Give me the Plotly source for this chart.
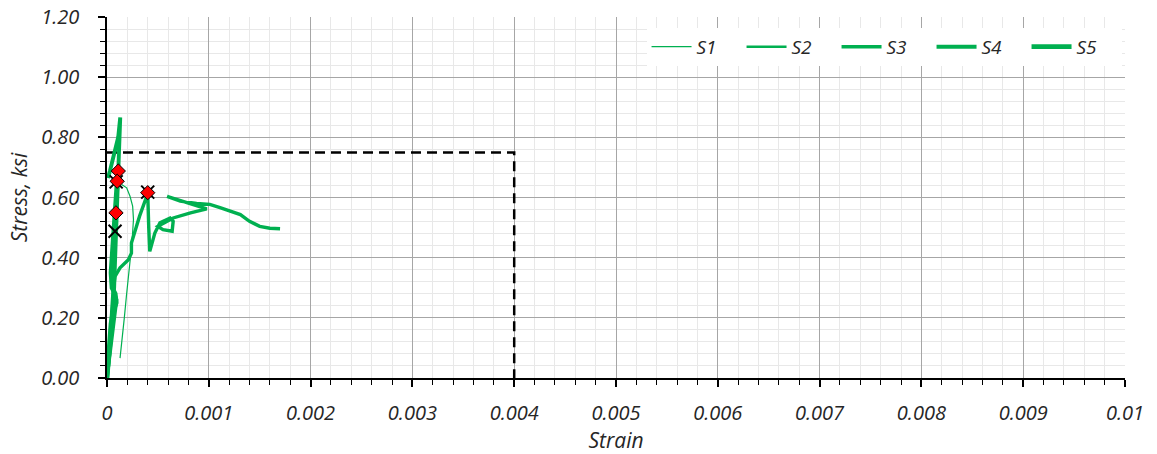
import plotly.graph_objects as go

# ---- data ----
s1_strain = [0.000128, 0.00015, 0.00017, 0.00019, 0.000226, 0.00024, 0.000245, 0.00026, 0.000252, 0.000226, 0.000193, 0.000144]
s1_stress = [0.066, 0.13, 0.20, 0.27, 0.393, 0.42, 0.449, 0.527, 0.571, 0.604, 0.632, 0.643]

s2_strain = [0.0, 0.00002, 0.00004, 0.00005, 0.00006, 0.00007, 0.00008, 0.00009, 0.000095, 0.0001, 0.000105, 0.00011]
s2_stress = [0.0, 0.10, 0.20, 0.26, 0.32, 0.40, 0.45, 0.488, 0.52, 0.55, 0.65, 0.688]

s3_strain = [0.0, 0.000046, 0.000079, 0.000095, 0.000062, 0.000079, 0.000128, 0.00021, 0.00024, 0.00024, 0.00026,
             0.00032, 0.00039, 0.0004, 0.00041, 0.00042, 0.00047, 0.00052, 0.00062, 0.00065, 0.00064, 0.00055,
             0.0005, 0.00065, 0.00082, 0.00098, 0.00059, 0.00072, 0.00088, 0.00101, 0.00111, 0.00121, 0.00131,
             0.0014, 0.0015, 0.0016, 0.0017]
s3_stress = [0.0, 0.127, 0.204, 0.26, 0.293, 0.338, 0.366, 0.393, 0.415, 0.449, 0.471,
             0.538, 0.604, 0.616, 0.50, 0.421, 0.482, 0.516, 0.532, 0.521, 0.488, 0.493,
             0.504, 0.532, 0.549, 0.562, 0.604, 0.588, 0.58, 0.577, 0.566, 0.554, 0.543,
             0.521, 0.504, 0.498, 0.496]

s4_strain = [0.0, 0.00003, 0.00005, 0.00007, 0.00008, 0.00009, 0.0001, 0.00011, 0.00012, 0.00013, 0.00011, 0.00007, 0.00003, 0.00001]
s4_stress = [0.0, 0.10, 0.20, 0.30, 0.40, 0.50, 0.60, 0.70, 0.80, 0.866, 0.80, 0.74, 0.69, 0.665]

s5_strain = [0.0, 0.00002, 0.00004, 0.00006, 0.00009, 0.00008, 0.00005, 0.00004, 0.00006, 0.00008, 0.0001]
s5_stress = [0.0, 0.10, 0.18, 0.22, 0.25, 0.28, 0.30, 0.35, 0.45, 0.55, 0.65]

diamond_strain = [0.000111, 0.0001, 0.000088, 0.0004]
diamond_stress = [0.688, 0.654, 0.549, 0.616]
x_strain = [0.00009, 0.000079, 0.0004]
x_stress = [0.652, 0.488, 0.618]

limit_strain = [0.0, 0.004, 0.004]
limit_stress = [0.75, 0.75, 0.0]

series = [("S1", s1_strain, s1_stress, 1.2),
          ("S2", s2_strain, s2_stress, 2.4),
          ("S3", s3_strain, s3_stress, 3.4),
          ("S4", s4_strain, s4_stress, 3.9),
          ("S5", s5_strain, s5_stress, 4.8)]

x_tickvals = [0, 0.001, 0.002, 0.003, 0.004, 0.005, 0.006, 0.007, 0.008, 0.009, 0.01]
x_ticktext = ["0", "0.001", "0.002", "0.003", "0.004", "0.005", "0.006", "0.007", "0.008", "0.009", "0.01"]
y_tickvals = [0, 0.2, 0.4, 0.6, 0.8, 1.0, 1.2]
y_ticktext = ["0.00", "0.20", "0.40", "0.60", "0.80", "1.00", "1.20"]

GREEN = "#00b050"
FONT = "Open Sans"
TXT = "#262626"

fig = go.Figure()
fig.add_trace(go.Scatter(x=limit_strain, y=limit_stress, mode="lines",
                         line=dict(color="black", width=2.5, dash="10px,6px"),
                         showlegend=False, hoverinfo="skip"))
for name, xs, ys, w in series:
    fig.add_trace(go.Scatter(x=xs, y=ys, mode="lines", name=name,
                             line=dict(color=GREEN, width=w)))
fig.add_trace(go.Scatter(x=x_strain, y=x_stress, mode="markers", showlegend=False,
                         marker=dict(symbol="x-thin-open", size=13, color="black",
                                     line=dict(color="black", width=2))))
fig.add_trace(go.Scatter(x=diamond_strain, y=diamond_stress, mode="markers", showlegend=False,
                         marker=dict(symbol="diamond", size=11, color="red",
                                     line=dict(color="black", width=1))))

fig.update_layout(
    width=1157, height=454,
    margin=dict(l=107, r=32, t=17, b=76, autoexpand=False),
    paper_bgcolor="white", plot_bgcolor="white",
    font=dict(family=FONT, size=20, color=TXT),
    showlegend=True,
    legend=dict(orientation="h", x=0.530, y=0.97, xanchor="left", yanchor="top",
                bgcolor="white", font=dict(family=FONT, size=19, style="italic", color=TXT),
                itemwidth=40, entrywidth=40, entrywidthmode="pixels", tracegroupgap=0),
    xaxis=dict(range=[0, 0.01], tickvals=x_tickvals, ticktext=x_ticktext,
               showgrid=True, gridcolor="#a6a6a6", gridwidth=1.3,
               showline=True, linecolor="black", linewidth=1.5,
               ticks="outside", ticklen=7, tickcolor="black", tickwidth=1.5,
               ticklabelstandoff=9, ticklabeloverflow="allow",
               tickfont=dict(family=FONT, size=20, style="italic", color=TXT),
               minor=dict(dtick=0.0002, showgrid=True, gridcolor="#e8e8e8", gridwidth=1,
                          ticks="outside", ticklen=5, tickcolor="black", tickwidth=1.2),
               title=dict(text="Strain", font=dict(family=FONT, size=21, style="italic", color=TXT), standoff=4),
               zeroline=False),
    yaxis=dict(range=[0, 1.2], tickvals=y_tickvals, ticktext=y_ticktext,
               showgrid=True, gridcolor="#a6a6a6", gridwidth=1.3,
               showline=True, linecolor="black", linewidth=1.5,
               ticks="outside", ticklen=7, tickcolor="black", tickwidth=1.5,
               ticklabelstandoff=15, ticklabeloverflow="allow",
               tickfont=dict(family=FONT, size=20, style="italic", color=TXT),
               minor=dict(dtick=0.04, showgrid=True, gridcolor="#e8e8e8", gridwidth=1,
                          ticks="outside", ticklen=5, tickcolor="black", tickwidth=1.2),
               title=dict(text="Stress, ksi", font=dict(family=FONT, size=21, style="italic", color=TXT), standoff=8),
               zeroline=False),
)

fig.write_html("out.html", config={"displayModeBar": False},
               post_script="document.body.style.margin='0px';")
